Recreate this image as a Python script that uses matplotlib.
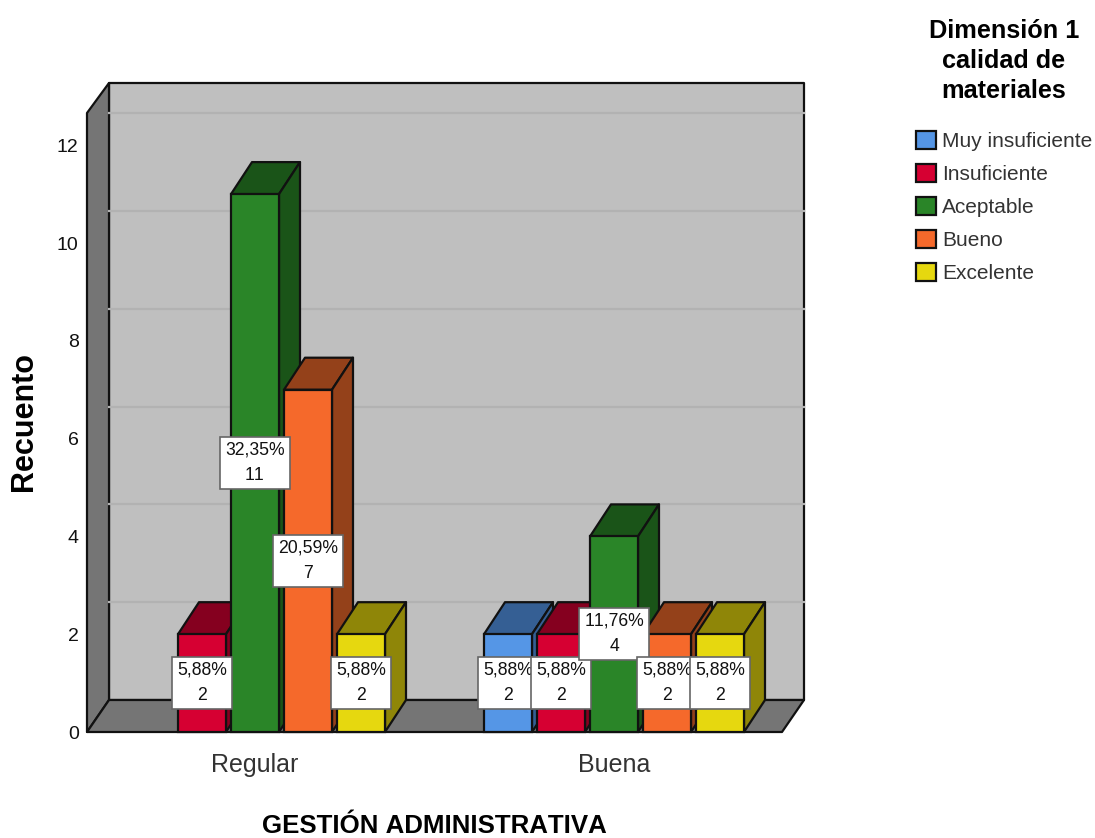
import matplotlib
matplotlib.use("Agg")
import matplotlib.pyplot as plt
from matplotlib.patches import Patch, Polygon

plt.rcParams["font.family"] = ["Liberation Sans", "DejaVu Sans"]
plt.rcParams["text.kerning_factor"] = 16

categories = ["Regular", "Buena"]
series = ["Muy insuficiente", "Insuficiente", "Aceptable", "Bueno", "Excelente"]
counts = {
    "Muy insuficiente": [0, 2],
    "Insuficiente": [2, 2],
    "Aceptable": [11, 4],
    "Bueno": [7, 2],
    "Excelente": [2, 2],
}
percents = {
    "Muy insuficiente": [None, "5,88%"],
    "Insuficiente": ["5,88%", "5,88%"],
    "Aceptable": ["32,35%", "11,76%"],
    "Bueno": ["20,59%", "5,88%"],
    "Excelente": ["5,88%", "5,88%"],
}
yticks = [0, 2, 4, 6, 8, 10, 12]

front = {"Muy insuficiente": "#5596e6", "Insuficiente": "#d60032", "Aceptable": "#2a8528",
         "Bueno": "#f5692b", "Excelente": "#e6d80f"}
top = {"Muy insuficiente": "#355f94", "Insuficiente": "#85001f", "Aceptable": "#1a5418",
       "Bueno": "#94411a", "Excelente": "#8f8608"}

W, H = 1095, 838
PX_X = 359.0   # pixels per category
PX_Y = 48.9    # pixels per count
DX = 21 / PX_X
DY = 32 / PX_Y
WALL_DX = 22 / PX_X
WALL_DY = 32 / PX_Y
WALL_TOP_DY = 30 / PX_Y
BAR_W = 48 / PX_X
SLOT = 53 / PX_X

fig = plt.figure(figsize=(W / 100, H / 100), dpi=100)
ax = fig.add_axes([87 / W, (H - 732) / H, 695 / W, 619 / H])
x0, x1 = (87 - 255) / PX_X, (782 - 255) / PX_X
y1 = 619 / PX_Y
ax.set_xlim(x0, x1)
ax.set_ylim(0, y1)
for s in ax.spines.values():
    s.set_visible(False)

edge = {"edgecolor": "#111111", "linewidth": 1.6, "clip_on": False, "joinstyle": "round"}

# walls and floor
back_top = y1 + WALL_TOP_DY
ax.add_patch(Polygon([(x0 + WALL_DX, WALL_DY), (x1 + WALL_DX, WALL_DY),
                      (x1 + WALL_DX, back_top), (x0 + WALL_DX, back_top)],
                     facecolor="#bfbfbf", zorder=1, **edge))
ax.add_patch(Polygon([(x0, 0), (x0 + WALL_DX, WALL_DY), (x0 + WALL_DX, back_top), (x0, y1)],
                     facecolor="#757575", zorder=1, **edge))
ax.add_patch(Polygon([(x0, 0), (x1, 0), (x1 + WALL_DX, WALL_DY), (x0 + WALL_DX, WALL_DY)],
                     facecolor="#757575", zorder=1, **edge))
for t in yticks[1:]:
    ax.plot([x0 + WALL_DX, x1 + WALL_DX], [t + WALL_DY, t + WALL_DY], color="#b2b2b2",
            lw=1.6, zorder=1.5, clip_on=False)

# bars, painted back to front from left to right
z = 2
labels = []
for c, cat in enumerate(categories):
    for s, name in enumerate(series):
        v = counts[name][c]
        if v == 0:
            continue
        xc = c + (s - 2) * SLOT
        l, r = xc - BAR_W / 2, xc + BAR_W / 2
        ax.add_patch(Polygon([(l, v), (r, v), (r + DX, v + DY), (l + DX, v + DY)],
                             facecolor=top[name], zorder=z, **edge))
        ax.add_patch(Polygon([(r, 0), (r + DX, DY), (r + DX, v + DY), (r, v)],
                             facecolor=top[name], zorder=z, **edge))
        ax.bar(xc, v, width=BAR_W, color=front[name], edgecolor="#111111", linewidth=1.6,
               zorder=z + 0.5, clip_on=False)
        z += 1
        labels.append((xc, v / 2, f"{percents[name][c]}\n{v}"))

for xc, yc, txt in labels:
    ax.text(xc, yc, txt, ha="center", va="center", fontsize=12.7, color="#111111",
            linespacing=1.65, zorder=50,
            bbox=dict(boxstyle="square,pad=0.27", facecolor="white", edgecolor="#666666", linewidth=1.2))

ax.set_yticks(yticks)
ax.set_xticks(range(len(categories)))
ax.set_xticklabels(categories)
ax.tick_params(axis="y", length=0, pad=6, labelsize=14, labelcolor="#111111")
ax.tick_params(axis="x", length=0, pad=15, labelsize=18, labelcolor="#333333")

fig.text(24 / W, 1 - 421 / H, "Recuento", rotation=90, ha="center", va="center",
         fontsize=22, fontweight="bold")
fig.text(434 / W, 1 - 826 / H, "GESTIÓN ADMINISTRATIVA", ha="center", va="center",
         fontsize=18.6, fontweight="bold")
fig.text(1004 / W, 1 - 61 / H, "Dimensión 1\ncalidad de\nmateriales", ha="center", va="center",
         fontsize=18.2, fontweight="bold", linespacing=1.3)

handles = [Patch(facecolor=front[n], edgecolor="#111111", linewidth=1.6) for n in series]
fig.legend(handles, series, loc="upper left", bbox_to_anchor=(912 / W, 1 - 127 / H),
           frameon=False, fontsize=15, handlelength=0.96, handleheight=0.96,
           handletextpad=0.29, labelspacing=0.615, labelcolor="#333333",
           borderpad=0.2, borderaxespad=0)

fig.savefig("out.png", dpi=100)
